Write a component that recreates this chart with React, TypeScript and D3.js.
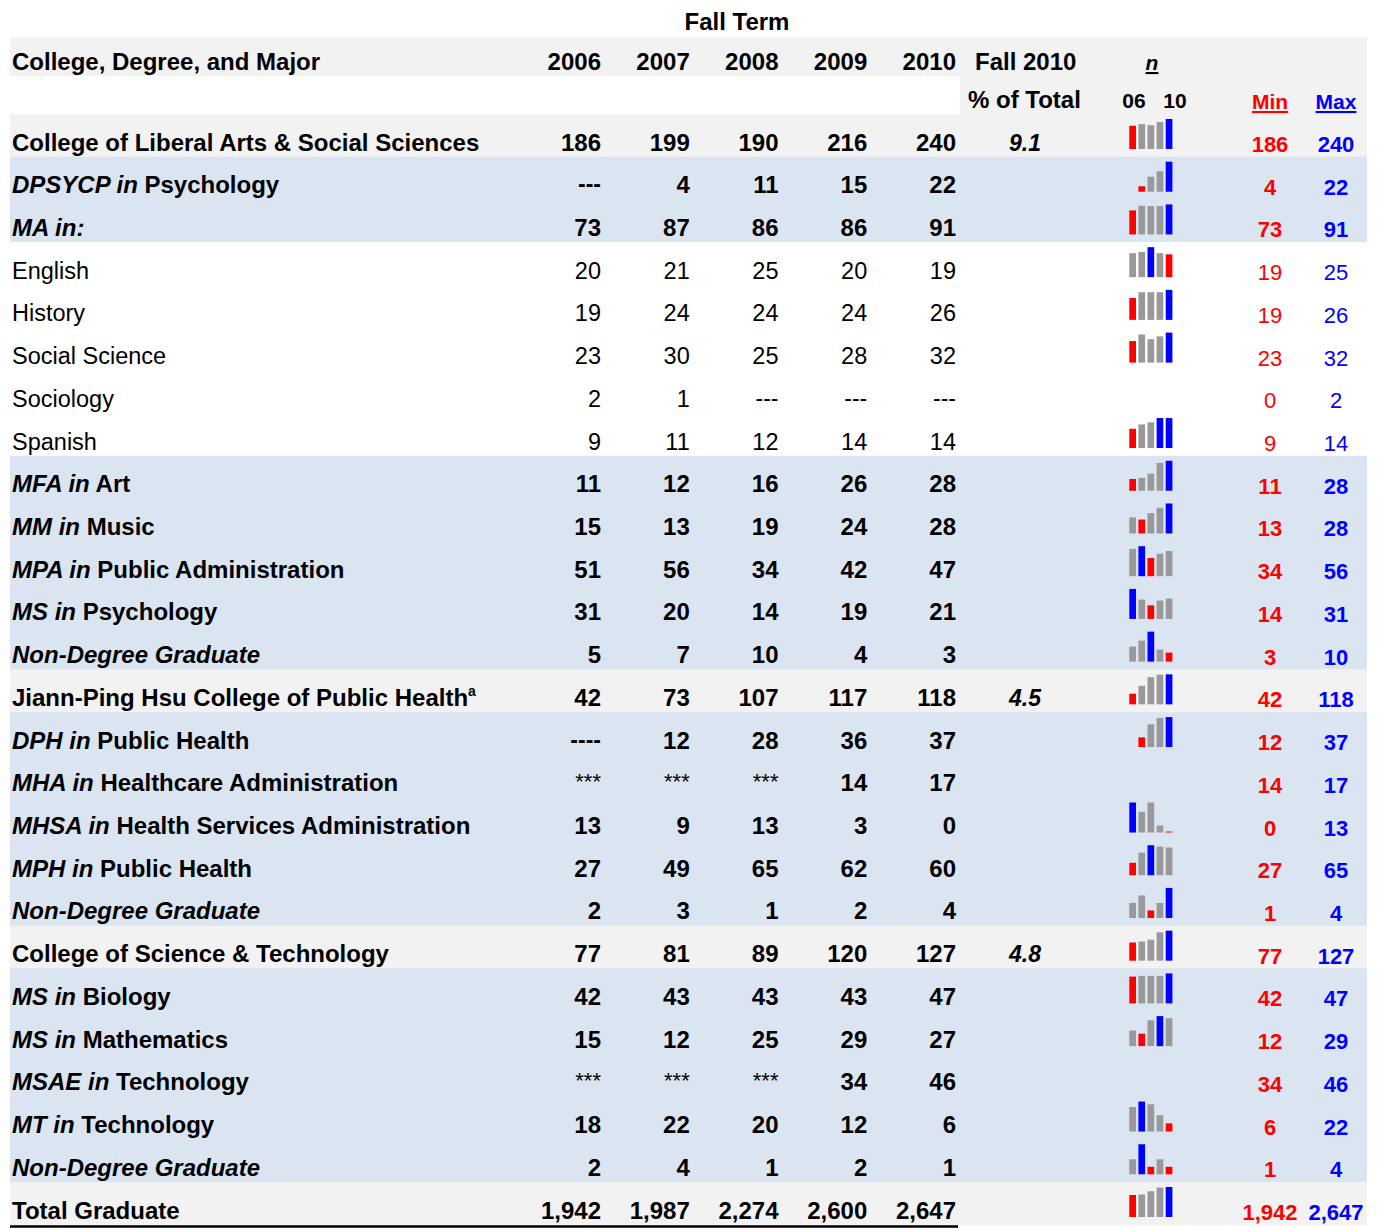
import React from "react";
import * as d3 from "d3";

// ---------- data ----------
const years = ["2006", "2007", "2008", "2009", "2010"];

const rowPrefixes: string[] = [
  "", "DPSYCP in", "MA in:", "", "", "", "", "",
  "MFA in", "MM in", "MPA in", "MS in", "Non-Degree Graduate",
  "", "DPH in", "MHA in", "MHSA in", "MPH in", "Non-Degree Graduate",
  "", "MS in", "MS in", "MSAE in", "MT in", "Non-Degree Graduate",
  "",
];
const rowNames: string[] = [
  "College of Liberal Arts & Social Sciences", "Psychology", "", "English", "History",
  "Social Science", "Sociology", "Spanish",
  "Art", "Music", "Public Administration", "Psychology", "",
  "Jiann-Ping Hsu College of Public Health", "Public Health", "Healthcare Administration",
  "Health Services Administration", "Public Health", "",
  "College of Science & Technology", "Biology", "Mathematics", "Technology", "Technology", "",
  "Total Graduate",
];
// college | degree | major | total
const rowKinds: string[] = [
  "college", "degree", "degree", "major", "major", "major", "major", "major",
  "degree", "degree", "degree", "degree", "degree",
  "college", "degree", "degree", "degree", "degree", "degree",
  "college", "degree", "degree", "degree", "degree", "degree",
  "total",
];
const rowSuperscripts: string[] = [
  "", "", "", "", "", "", "", "", "", "", "", "", "",
  "a", "", "", "", "", "", "", "", "", "", "", "", "",
];

type Cell = number | string;
const fall2006: Cell[] = [186, "---", 73, 20, 19, 23, 2, 9, 11, 15, 51, 31, 5, 42, "----", "***", 13, 27, 2, 77, 42, 15, "***", 18, 2, 1942];
const fall2007: Cell[] = [199, 4, 87, 21, 24, 30, 1, 11, 12, 13, 56, 20, 7, 73, 12, "***", 9, 49, 3, 81, 43, 12, "***", 22, 4, 1987];
const fall2008: Cell[] = [190, 11, 86, 25, 24, 25, "---", 12, 16, 19, 34, 14, 10, 107, 28, "***", 13, 65, 1, 89, 43, 25, "***", 20, 1, 2274];
const fall2009: Cell[] = [216, 15, 86, 20, 24, 28, "---", 14, 26, 24, 42, 19, 4, 117, 36, 14, 3, 62, 2, 120, 43, 29, 34, 12, 2, 2600];
const fall2010: Cell[] = [240, 22, 91, 19, 26, 32, "---", 14, 28, 28, 47, 21, 3, 118, 37, 17, 0, 60, 4, 127, 47, 27, 46, 6, 1, 2647];

const pctOfTotal: string[] = [
  "9.1", "", "", "", "", "", "", "", "", "", "", "", "",
  "4.5", "", "", "", "", "", "4.8", "", "", "", "", "", "",
];
const minVals: number[] = [186, 4, 73, 19, 19, 23, 0, 9, 11, 13, 34, 14, 3, 42, 12, 14, 0, 27, 1, 77, 42, 12, 34, 6, 1, 1942];
const maxVals: number[] = [240, 22, 91, 25, 26, 32, 2, 14, 28, 28, 56, 31, 10, 118, 37, 17, 13, 65, 4, 127, 47, 29, 46, 22, 4, 2647];
const showSpark: boolean[] = [
  true, true, true, true, true, true, false, true, true, true, true, true, true,
  true, true, false, true, true, true, true, true, true, false, true, true, true,
];
// bars highlighted as maximum where the sheet marks only some tied values
const maxMarkOverride: (number[] | null)[] = rowNames.map((_, i) => (i === 16 ? [0] : null));

// ---------- style ----------
const FONT = "'Liberation Sans', Arial, Helvetica, sans-serif";
const FS_BOLD = 24;
const FS_REG = 23.5;
const GRAY_BAND = "#f2f2f2";
const BLUE_BAND = "#dbe5f1";
const RED = "#ff0000";
const BLUE = "#0000ff";
const BAR_GRAY = "#999999";

const W = 1377;
const H = 1228;

export default function App() {
  const cols = [fall2006, fall2007, fall2008, fall2009, fall2010];
  const nRows = rowNames.length;
  const rowY = d3.scaleBand<number>().domain(d3.range(nRows)).range([114, 114 + nRows * 42.72]).padding(0);
  const yearX = d3.scaleLinear().domain([0, 4]).range([601, 956]);
  const barX = d3.scaleBand<number>().domain(d3.range(5)).range([1129.3, 1172.4]).paddingInner(0.264).paddingOuter(0);
  const fmt = d3.format(",");
  const minX = 1270;
  const maxX = 1336;

  const bandColor = (k: string) => (k === "college" || k === "total" ? GRAY_BAND : k === "degree" ? BLUE_BAND : "#ffffff");

  return (
    <svg width={W} height={H} style={{ position: "absolute", left: 0, top: 0, background: "#fff" }} fontFamily={FONT}>
      {/* header bands */}
      <rect x={10} y={37} width={1357} height={77} fill={GRAY_BAND} />
      <rect x={10} y={76} width={950} height={38} fill="#ffffff" />
      {d3.range(nRows).map((i) => (
        <rect key={"b" + i} x={10} y={rowY(i)!} width={1357} height={rowY.bandwidth() + 0.5} fill={bandColor(rowKinds[i])} />
      ))}

      {/* titles */}
      <text x={737} y={30} textAnchor="middle" fontSize={FS_BOLD} fontWeight="bold">Fall Term</text>
      <text x={12} y={70} fontSize={FS_BOLD} fontWeight="bold">College, Degree, and Major</text>
      {years.map((yr, j) => (
        <text key={yr} x={yearX(j)} y={70} textAnchor="end" fontSize={FS_BOLD} fontWeight="bold">{yr}</text>
      ))}
      <text x={975} y={70} fontSize={FS_BOLD} fontWeight="bold">Fall 2010</text>
      <text x={968} y={108} fontSize={FS_BOLD} fontWeight="bold">% of Total</text>
      <text x={1152} y={70} textAnchor="middle" fontSize={21} fontWeight="bold" fontStyle="italic" textDecoration="underline">n</text>
      <text x={1134} y={108} textAnchor="middle" fontSize={21} fontWeight="bold">06</text>
      <text x={1175} y={108} textAnchor="middle" fontSize={21} fontWeight="bold">10</text>
      <text x={minX} y={109} textAnchor="middle" fontSize={21} fontWeight="bold" fill={RED} textDecoration="underline">Min</text>
      <text x={maxX} y={109} textAnchor="middle" fontSize={21} fontWeight="bold" fill={BLUE} textDecoration="underline">Max</text>

      {/* rows */}
      {d3.range(nRows).map((i) => {
        const top = rowY(i)!;
        const base = top + 36.5;
        const kind = rowKinds[i];
        const bold = kind !== "major";
        const weight = bold ? "bold" : "normal";
        const fs = bold ? FS_BOLD : FS_REG;
        const prefix = rowPrefixes[i];
        const name = rowNames[i];
        const vals = cols.map((c) => c[i]);
        const nums = vals.map((v) => (typeof v === "number" ? v : null));
        const rowMax = d3.max(nums.filter((v) => v !== null) as number[]) || 1;
        const rowMin = d3.min(nums.filter((v) => v !== null) as number[]);
        const hY = d3.scaleLinear().domain([0, rowMax]).range([0, 30]);
        const barBottom = top + 35;
        const ov = maxMarkOverride[i];
        return (
          <g key={"r" + i}>
            <text x={12} y={base} fontSize={fs} fontWeight={weight}>
              {prefix && <tspan fontStyle="italic">{prefix}</tspan>}
              {name && <tspan>{(prefix ? " " : "") + name}</tspan>}
              {rowSuperscripts[i] && (
                <tspan fontSize={14} dy={-10}>{rowSuperscripts[i]}</tspan>
              )}
            </text>
            {vals.map((v, j) =>
              typeof v === "number" ? (
                <text key={j} x={yearX(j)} y={base} textAnchor="end" fontSize={fs} fontWeight={weight}>{fmt(v)}</text>
              ) : v === "***" ? (
                <text key={j} x={yearX(j)} y={base - 2} textAnchor="end" fontSize={22} fontWeight="normal">{v}</text>
              ) : (
                <text key={j} x={yearX(j)} y={base - 1} textAnchor="end" fontSize={23} fontWeight={weight}>{v}</text>
              )
            )}
            {pctOfTotal[i] && (
              <text x={1025} y={base} textAnchor="middle" fontSize={FS_BOLD - 1} fontWeight="bold" fontStyle="italic">{pctOfTotal[i]}</text>
            )}
            {showSpark[i] &&
              nums.map((v, j) => {
                if (v === null) return null;
                const isMax = ov ? ov.includes(j) : v === rowMax;
                const isMin = v === rowMin;
                const color = isMax ? BLUE : isMin ? RED : BAR_GRAY;
                const h = Math.max(1, hY(v));
                return <rect key={"s" + j} x={barX(j)!} y={barBottom - h} width={barX.bandwidth()} height={h} fill={color} />;
              })}
            <text x={minX} y={top + 38} textAnchor="middle" fontSize={22} fontWeight={weight} fill={RED}>{fmt(minVals[i])}</text>
            <text x={maxX} y={top + 38} textAnchor="middle" fontSize={22} fontWeight={weight} fill={BLUE}>{fmt(maxVals[i])}</text>
          </g>
        );
      })}

      {/* bottom rule */}
      <line x1={10} x2={958} y1={1226.5} y2={1226.5} stroke="#000" strokeWidth={2.5} />
    </svg>
  );
}
